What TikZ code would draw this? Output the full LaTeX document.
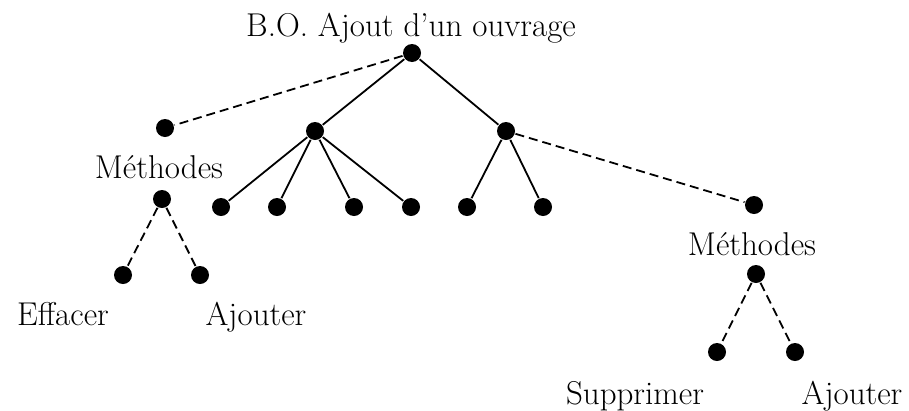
\documentclass[tikz,border=0pt]{standalone}
\begin{document}
\begin{tikzpicture}[x=1pt,y=-1pt,line width=1.8pt,
    dot/.style={circle,fill,inner sep=0pt,minimum size=18pt},
    lbl/.style={anchor=base,inner sep=0pt,font=\fontsize{33}{39}\selectfont},
    tiret/.style={dash pattern=on 9pt off 5pt}]
        \useasboundingbox (0,0) rectangle (909,410);
        \node[lbl] (titre) at (411,36) {B.O. Ajout d'un ouvrage};
        \node[dot] (root) at (412,53) {};
        \node[dot] (p1) at (165,128) {};
        \node[dot] (n1) at (315,131) {};
        \node[dot] (n2) at (506,131) {};
        \node[dot] (l1) at (221,207) {};
        \node[dot] (l2) at (277,207) {};
        \node[dot] (l3) at (354,207) {};
        \node[dot] (l4) at (411,207) {};
        \node[dot] (l5) at (467,207) {};
        \node[dot] (l6) at (543,207) {};
        \node[dot] (p2) at (754,205) {};
        \node[lbl] (meth1) at (159,178) {Méthodes};
        \node[dot] (m1) at (162,199) {};
        \node[dot] (e1) at (123,275) {};
        \node[dot] (a1) at (200,275) {};
        \node[lbl] (eff) at (63,325) {Effacer};
        \node[lbl] (ajt1) at (256,325) {Ajouter};
        \node[lbl] (meth2) at (752,255) {Méthodes};
        \node[dot] (m2) at (756,274) {};
        \node[dot] (s2) at (717,352) {};
        \node[dot] (a2) at (795,352) {};
        \node[lbl] (sup) at (635,404) {Supprimer};
        \node[lbl] (ajt2) at (852,404) {Ajouter};
        \draw[tiret] (root) -- (p1);
        \draw (root) -- (n1);
        \draw (root) -- (n2);
        \draw (n1) -- (l1);
        \draw (n1) -- (l2);
        \draw (n1) -- (l3);
        \draw (n1) -- (l4);
        \draw (n2) -- (l5);
        \draw (n2) -- (l6);
        \draw[tiret] (n2) -- (p2);
        \draw[tiret] (m1) -- (e1);
        \draw[tiret] (m1) -- (a1);
        \draw[tiret] (m2) -- (s2);
        \draw[tiret] (m2) -- (a2);
\end{tikzpicture}
\end{document}
